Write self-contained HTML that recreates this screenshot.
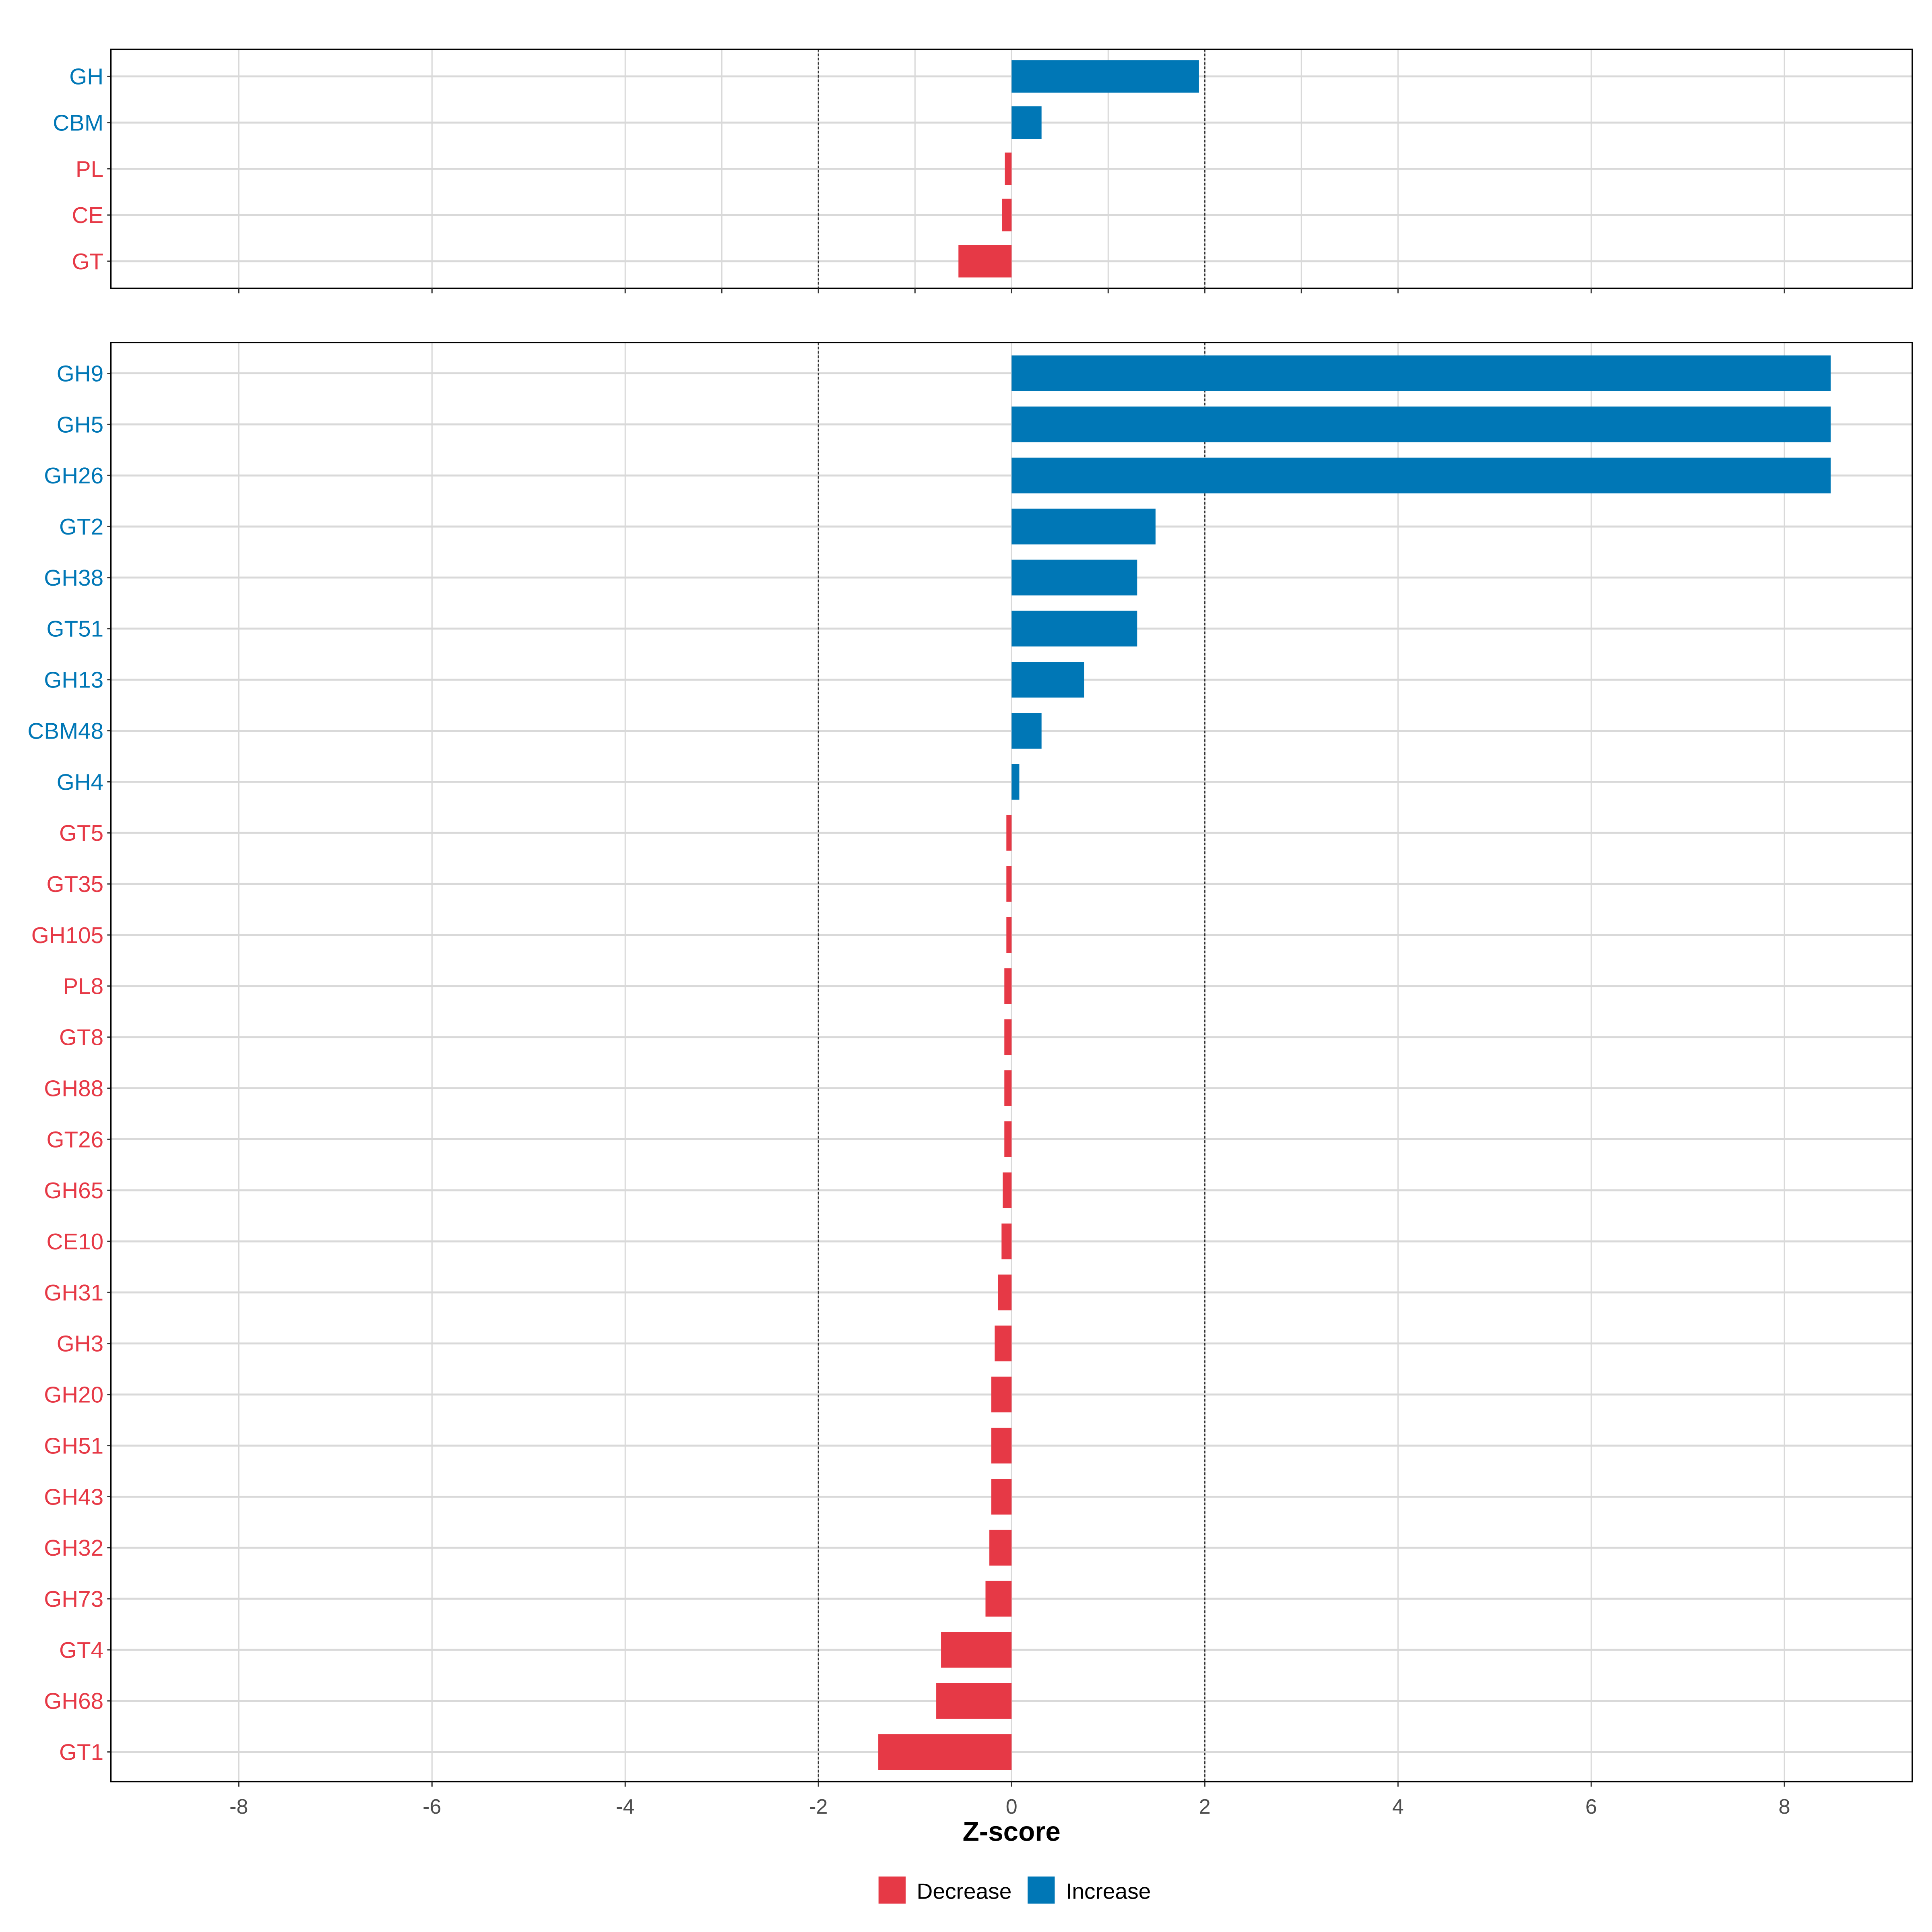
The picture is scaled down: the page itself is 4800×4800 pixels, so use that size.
<!DOCTYPE html>
<html><head><meta charset="utf-8"><style>
html,body{margin:0;padding:0;background:#fff}
svg{display:block}
text{font-family:"Liberation Sans",sans-serif}
</style></head><body>
<svg id="chart" width="4800" height="4800" viewBox="0 0 1568 1568" xmlns="http://www.w3.org/2000/svg"></svg>
<script>
const topCategories = ["GH","CBM","PL","CE","GT"];
const topValues = [1.94,0.31,-0.07,-0.10,-0.55];
const bottomCategories = ["GH9","GH5","GH26","GT2","GH38","GT51","GH13","CBM48","GH4","GT5","GT35","GH105","PL8","GT8","GH88","GT26","GH65","CE10","GH31","GH3","GH20","GH51","GH43","GH32","GH73","GT4","GH68","GT1"];
const bottomValues = [8.48,8.48,8.48,1.49,1.30,1.30,0.75,0.31,0.08,-0.054,-0.054,-0.054,-0.075,-0.075,-0.075,-0.075,-0.092,-0.104,-0.14,-0.175,-0.21,-0.21,-0.21,-0.23,-0.27,-0.73,-0.78,-1.38];
const topTicks = [-8,-6,-4,-3,-2,-1,0,1,2,3,4,6,8];
const bottomTicks = [-8,-6,-4,-2,0,2,4,6,8];
const thresholds = [-2,2];

const NS="http://www.w3.org/2000/svg";
const svg=document.getElementById('chart');
const BLUE="#0077B6", RED="#E63946";
const X0=821, XU=78.4;
const xs=v=>X0+v*XU;
function el(tag,attrs,parent){const e=document.createElementNS(NS,tag);for(const k in attrs)e.setAttribute(k,attrs[k]);(parent||svg).appendChild(e);return e;}

function panel(name,cats,vals,ticks,y0,y1,firstY,step,barH,showLabels){
  const g=el('g',{});
  
  
  const L=90,R=1552;
  ticks.forEach(t=>{
    const l=el('line',{x1:xs(t),x2:xs(t),y1:y0,y2:y1,stroke:'#d9d9d9','stroke-width':1},g);
    
    
  });
  cats.forEach((c,i)=>{
    const y=firstY+i*step;
    const l=el('line',{x1:L,x2:R,y1:y,y2:y,stroke:'#d9d9d9','stroke-width':1.6},g);
    
    
  });
  thresholds.forEach(t=>{
    const l=el('line',{x1:xs(t),x2:xs(t),y1:y0,y2:y1,stroke:'#333','stroke-width':1,'stroke-dasharray':'2,1.5'},g);
    
    
  });
  cats.forEach((c,i)=>{
    const y=firstY+i*step, v=vals[i];
    const r=el('rect',{x:Math.min(xs(0),xs(v)),y:y-barH/2,width:Math.abs(xs(v)-xs(0)),height:barH,fill:v>=0?BLUE:RED},g);
    
    
    const t=el('text',{x:84,y:y+6.5,'text-anchor':'end','font-size':18.5,fill:v>=0?BLUE:RED},g);
    t.textContent=c;
    
    
    el('line',{x1:87,x2:90,y1:y,y2:y,stroke:'#333','stroke-width':1},g);
  });
  const f=el('rect',{x:L,y:y0,width:R-L,height:y1-y0,fill:'none',stroke:'#000','stroke-width':1.1},g);
  
  
  ticks.forEach(t=>{
    el('line',{x1:xs(t),x2:xs(t),y1:y1,y2:y1+4,stroke:'#333','stroke-width':1},g);
    if(showLabels){
      const tl=el('text',{x:xs(t),y:y1+26,'text-anchor':'middle','font-size':17,fill:'#4d4d4d'},g);
      tl.textContent=String(t);
      
      
    }
  });
}
panel('top-panel',topCategories,topValues,topTicks,40,234,62,37.5,26.4,false);
panel('bottom-panel',bottomCategories,bottomValues,bottomTicks,278,1446,303,41.44,29,true);

const title=el('text',{x:821,y:1494,'text-anchor':'middle','font-size':22,'font-weight':'bold',fill:'#000'});
title.textContent='Z-score';



const lg=el('g',{});


const items=[["Decrease",RED,713,744],["Increase",BLUE,834,865]];
items.forEach(it=>{
  const r=el('rect',{x:it[2],y:1523,width:22,height:22,fill:it[1]},lg);
  
  
  const t=el('text',{x:it[3],y:1541,'font-size':18,fill:'#000'},lg);
  t.textContent=it[0];
  
  
});
</script>
</body></html>
